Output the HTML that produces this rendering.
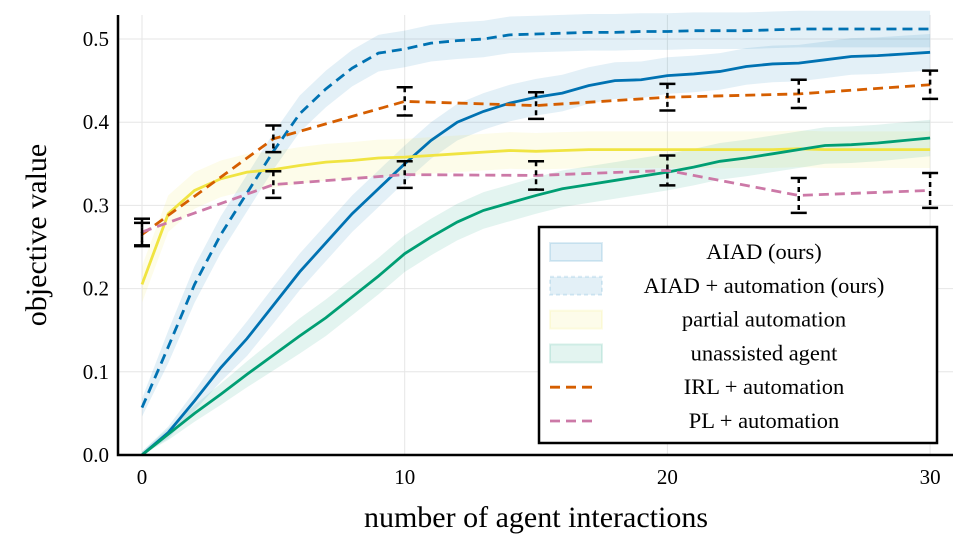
<!DOCTYPE html>
<html><head><meta charset="utf-8"><style>
body{margin:0;background:#fff}
svg{display:block;font-family:"Liberation Serif",serif}
</style></head><body>
<svg id="chart" width="969" height="556"></svg>
<script>
const xsFull = Array.from({length:31},(_,i)=>i);
const aiad = [0,0.027,0.065,0.105,0.14,0.18,0.22,0.255,0.29,0.32,0.35,0.378,0.4,0.413,0.423,0.43,0.435,0.444,0.45,0.451,0.456,0.458,0.461,0.467,0.47,0.471,0.475,0.479,0.48,0.482,0.484];
const aiadAuto = [0.057,0.13,0.205,0.265,0.315,0.365,0.41,0.44,0.465,0.483,0.488,0.495,0.498,0.5,0.505,0.506,0.507,0.508,0.508,0.509,0.509,0.510,0.510,0.510,0.511,0.512,0.512,0.512,0.512,0.512,0.512];
const partial = [0.205,0.29,0.318,0.332,0.34,0.343,0.348,0.352,0.354,0.357,0.358,0.36,0.362,0.364,0.366,0.365,0.366,0.367,0.367,0.367,0.367,0.367,0.367,0.367,0.367,0.368,0.367,0.367,0.367,0.367,0.367];
const unassisted = [0,0.025,0.05,0.073,0.097,0.12,0.143,0.165,0.19,0.215,0.242,0.262,0.28,0.294,0.303,0.312,0.32,0.325,0.33,0.335,0.34,0.346,0.353,0.357,0.362,0.367,0.372,0.373,0.375,0.378,0.381];
const xsSparse = [0,5,10,15,20,25,30];
const irl = [0.265,0.38,0.425,0.42,0.43,0.434,0.445];
const irlErr = [0.014,0.016,0.017,0.016,0.016,0.017,0.017];
const pl = [0.268,0.325,0.337,0.336,0.342,0.312,0.318];
const plErr = [0.016,0.016,0.016,0.017,0.018,0.021,0.021];
const xTicks = [0,10,20,30];
const yTicks = [0,0.1,0.2,0.3,0.4,0.5];
const yTickLabels = ["0.0","0.1","0.2","0.3","0.4","0.5"];

const NS="http://www.w3.org/2000/svg";
const svg=document.getElementById('chart');
const L=118,R=953,T=15,B=455;
const X=v=>142+v*26.27;
const Y=v=>455-v*832;
const half=v=>Math.min(0.022,0.004+v*0.12);
function el(t,a,p){const e=document.createElementNS(NS,t);for(const k in a)e.setAttribute(k,a[k]);(p||svg).appendChild(e);return e;}
xTicks.forEach(t=>{const g=el('line',{x1:X(t),x2:X(t),y1:T,y2:B,stroke:'#e6e6e6','stroke-width':1});


const l=el('text',{x:X(t),y:484,'text-anchor':'middle','font-size':21});l.textContent=t;

});
yTicks.forEach((t,i)=>{const g=el('line',{x1:L,x2:R,y1:Y(t),y2:Y(t),stroke:'#e6e6e6','stroke-width':1});


const l=el('text',{x:109,y:Y(t)+7,'text-anchor':'end','font-size':21});l.textContent=yTickLabels[i];

});
function band(xs,ys,color,name){
 let d='M'+xs.map((x,i)=>X(x)+','+Y(ys[i]+half(ys[i]))).join('L');
 d+='L'+xs.map((x,i)=>X(x)+','+Y(Math.max(0,ys[i]-half(ys[i])))).reverse().join('L')+'Z';
 const p=el('path',{d,fill:color,'fill-opacity':0.11,stroke:'none'});
 
 
}
function line(xs,ys,color,dash,name){
 const p=el('polyline',{points:xs.map((x,i)=>X(x)+','+Y(ys[i])).join(' '),fill:'none',stroke:color,'stroke-width':2.8,'stroke-dasharray':dash||'none'});
 
 
}
band(xsFull,aiad,'#0072b2','aiad-band');
band(xsFull,aiadAuto,'#0072b2','aiad-automation-band');
band(xsFull,partial,'#f0e442','partial-automation-band');
band(xsFull,unassisted,'#009e73','unassisted-band');
line(xsFull,aiadAuto,'#0072b2','10,6','aiad-automation-line');
line(xsFull,aiad,'#0072b2','','aiad-line');
line(xsFull,partial,'#f0e442','','partial-automation-line');
line(xsFull,unassisted,'#009e73','','unassisted-line');
line(xsSparse,irl,'#d55e00','10,6','irl-line');
line(xsSparse,pl,'#cc79a7','10,6','pl-line');
function errs(ys,es,name){xsSparse.forEach((x,i)=>{
 const g=el('g',{stroke:'#000','stroke-width':2.5});
 
 
 const y1=Y(ys[i]+es[i]),y2=Y(ys[i]-es[i]),cx=X(x);
 el('line',{x1:cx,x2:cx,y1,y2,'stroke-dasharray':'5,4'},g);
 el('line',{x1:cx-8,x2:cx+8,y1,y2:y1},g);
 el('line',{x1:cx-8,x2:cx+8,y1:y2,y2:y2},g);
});}
errs(irl,irlErr,'irl-error-bar');
errs(pl,plErr,'pl-error-bar');
const ax=el('path',{d:`M${L},${T}V${B}H${R}`,fill:'none',stroke:'#000','stroke-width':2.5});


const xt=el('text',{x:536,y:527,'text-anchor':'middle','font-size':30});xt.textContent='number of agent interactions';


const yt=el('text',{x:0,y:0,'text-anchor':'middle','font-size':30,transform:'translate(46,235) rotate(-90)'});yt.textContent='objective value';


const lg=el('g',{});


el('rect',{x:539,y:227,width:398,height:216,fill:'#fff',stroke:'#000','stroke-width':2.5},lg);
const entries=[['AIAD (ours)','#0072b2','patch',''],['AIAD + automation (ours)','#0072b2','patch','4,3'],['partial automation','#f0e442','patch',''],['unassisted agent','#009e73','patch',''],['IRL + automation','#d55e00','line',''],['PL + automation','#cc79a7','line','']];
entries.forEach((e,i)=>{const cy=252+i*33.8;const g=el('g',{},lg);
 
 
 if(e[2]==='patch'){el('rect',{x:550,y:cy-9,width:52,height:18,fill:e[1],'fill-opacity':0.11,stroke:e[1],'stroke-opacity':0.13,'stroke-width':2,'stroke-dasharray':e[3]||'none'},g);}
 else{el('line',{x1:550,x2:596,y1:cy,y2:cy,stroke:e[1],'stroke-width':2.8,'stroke-dasharray':'10,6'},g);}
 const t=el('text',{x:764,y:cy+7,'text-anchor':'middle','font-size':22.5},g);t.textContent=e[0];});
</script>
</body></html>
